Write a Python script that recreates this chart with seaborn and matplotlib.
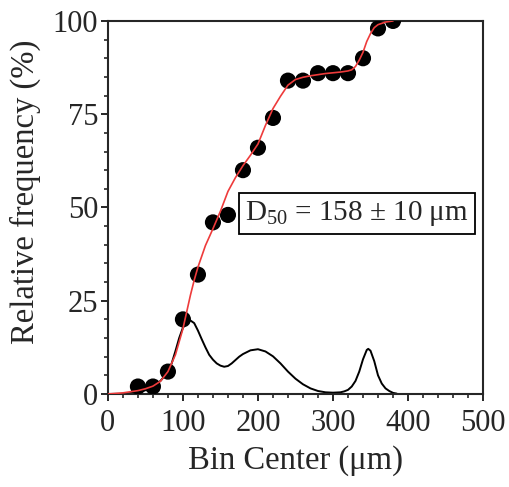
import numpy as np
import pandas as pd
import matplotlib
matplotlib.use('Agg')
import matplotlib.pyplot as plt
from matplotlib.ticker import MultipleLocator
import seaborn as sns

# pontos medidos (frequencia acumulada)
bin_center = [40, 60, 80, 100, 120, 140, 160, 180, 200, 220, 240, 260, 280, 300, 320, 340, 360, 380]
acumulada = [2, 2, 6, 20, 32, 46, 48, 60, 66, 74, 84, 84, 86, 86, 86, 90, 98, 100]

# curva ajustada (vermelha)
ajuste_x = [0, 20, 40, 50, 60, 70, 80, 90, 100, 105, 110, 115, 120, 130, 140, 150, 160, 170,
            180, 190, 200, 210, 220, 230, 240, 250, 260, 270, 280, 290, 300, 310, 320, 325,
            330, 335, 340, 345, 350, 355, 360, 370, 380]
ajuste_y = [0, 0.3, 0.9, 1.4, 2.1, 3.4, 6, 10.5, 17.5, 22, 26.5, 30.5, 34, 39.8, 44.3, 49,
            54.3, 58, 61.2, 64, 67, 72, 76.5, 79.8, 82.8, 84.3, 84.9, 85.3, 85.6, 85.9, 86.1,
            86.3, 86.6, 86.9, 87.8, 89.5, 91.6, 94.5, 96.6, 98.2, 99.0, 99.7, 100]

# distribuicao (curva preta)
dist_x = [0, 20, 40, 50, 60, 70, 75, 80, 85, 90, 95, 100, 105, 110, 115, 120, 125, 130, 135,
          140, 145, 150, 155, 160, 165, 170, 175, 180, 190, 200, 210, 220, 230, 240, 250, 260,
          270, 280, 290, 300, 310, 315, 320, 325, 330, 335, 340, 345, 347, 350, 355, 360, 365,
          370, 375, 380, 385]
dist_y = [0, 0.05, 0.4, 1, 2, 3.5, 4.7, 6.2, 8.2, 11.5, 15, 17.8, 19.3, 19.7, 19, 17, 14.7,
          12.5, 10.5, 9.2, 8.2, 7.6, 7.3, 7.5, 8.2, 9.1, 10, 10.7, 11.7, 12, 11.4, 10.1, 8.2,
          6, 4.1, 2.6, 1.5, 0.8, 0.45, 0.35, 0.45, 0.7, 1.1, 2, 3.5, 6, 9.3, 11.8, 12.1, 11.6,
          8.8, 5.0, 2.8, 1.5, 0.8, 0.3, 0.1]

sns.set_style('ticks')
plt.rcParams['font.family'] = ['Liberation Serif', 'DejaVu Serif']
plt.rcParams['mathtext.fontset'] = 'custom'
plt.rcParams['mathtext.rm'] = 'Liberation Serif'

df_pts = pd.DataFrame({'x': bin_center, 'y': acumulada})
df_fit = pd.DataFrame({'x': ajuste_x, 'y': ajuste_y})
df_dist = pd.DataFrame({'x': dist_x, 'y': dist_y})

fig = plt.figure(figsize=(5.09, 4.87), dpi=100)
ax = fig.add_axes([0.212, 0.191, 0.737, 0.766])

sns.lineplot(data=df_dist, x='x', y='y', color='black', linewidth=1.4, sort=False, ax=ax, zorder=2)
sns.scatterplot(data=df_pts, x='x', y='y', color='black', s=135, edgecolor='none', ax=ax, zorder=3)
sns.lineplot(data=df_fit, x='x', y='y', color='#ee3b3b', linewidth=1.2, sort=False, ax=ax, zorder=4)

ax.set_xlim(0, 500)
ax.set_ylim(0, 100)
ax.xaxis.set_major_locator(MultipleLocator(100))
ax.xaxis.set_minor_locator(MultipleLocator(20))
ax.yaxis.set_major_locator(MultipleLocator(25))
ax.yaxis.set_minor_locator(MultipleLocator(5))

for s in ax.spines.values():
    s.set_linewidth(1.5)
    s.set_visible(True)
ax.tick_params(which='major', length=5, width=1.4, labelsize=22, pad=2)
ax.tick_params(axis='x', which='major', pad=6)
ax.tick_params(which='minor', length=3, width=1.2)

ax.set_xlabel('Bin Center (μm)', fontsize=23.5, labelpad=5)
ax.set_ylabel('Relative frequency (%)', fontsize=23.5)
ax.yaxis.set_label_coords(-0.178, 0.542)

ax.text(332, 48.4, r'D$\mathregular{_{50}}$ = 158 ± 10 μm', fontsize=21, ha='center', va='center',
        bbox=dict(boxstyle='square,pad=0.2', facecolor='white', edgecolor='black', linewidth=1.3),
        zorder=5)

fig.savefig('out.png', dpi=100)
